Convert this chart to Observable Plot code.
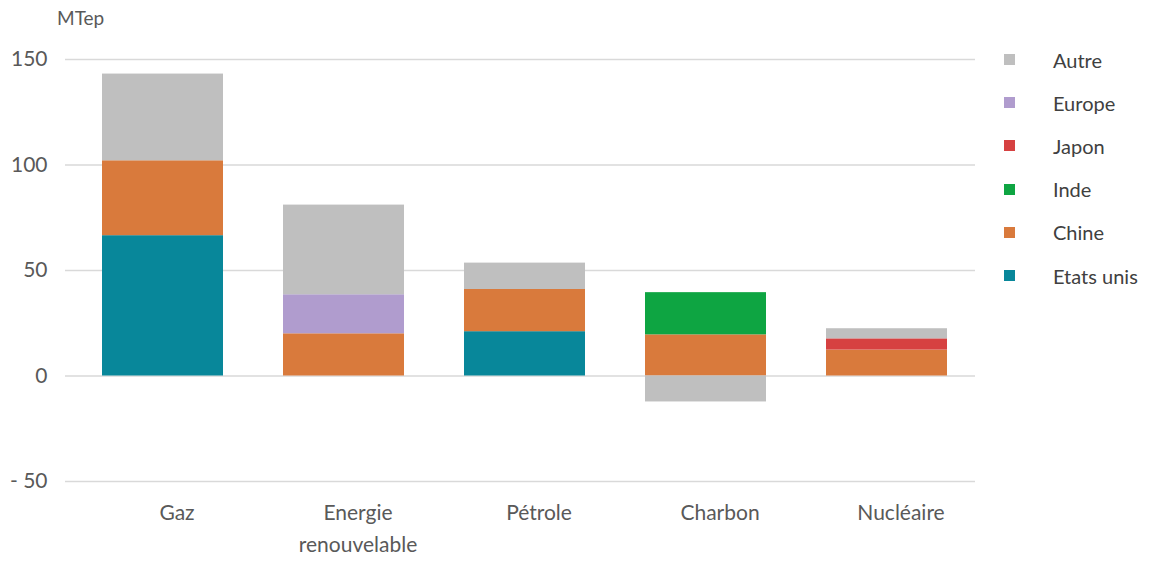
<!DOCTYPE html>
<html>
<head>
<meta charset="utf-8">
<script src="https://cdn.jsdelivr.net/npm/d3@7"></script>
<script src="https://cdn.jsdelivr.net/npm/@observablehq/plot@0.6"></script>
<style>
  html, body { margin: 0; padding: 0; background: #fff; }
  #wrap { position: relative; width: 1156px; height: 562px; font-family: Lato, "Open Sans", sans-serif; }
  #unit { position: absolute; left: 57px; top: 6px; font-size: 19px; color: #595959; }
  #legend { position: absolute; left: 1004px; top: 38px; }
  .item { display: flex; align-items: center; height: 43.2px; font-size: 20px; color: #404040; }
  .sw { width: 11px; height: 11px; margin-right: 38px; }
</style>
</head>
<body>
<div id="wrap">
  <div id="chart"></div>
  <div id="unit">MTep</div>
  <div id="legend"></div>
</div>
<script>
const categories = ["Gaz", "Energie renouvelable", "Pétrole", "Charbon", "Nucléaire"];
const tickLabels = ["Gaz", "Energie\nrenouvelable", "Pétrole", "Charbon", "Nucléaire"];
const series = ["Etats unis", "Chine", "Inde", "Japon", "Europe", "Autre"];
const etatsUnis = [66.5, 0, 21, 0, 0];
const chine     = [35.5, 20, 20, 19.5, 12.3];
const inde      = [0, 0, 0, 20, 0];
const japon     = [0, 0, 0, 0, 5.3];
const europe    = [0, 18.5, 0, 0, 0];
const autre     = [41.1, 42.5, 12.5, -12.3, 4.8];
const colors    = ["#08879a", "#d97a3c", "#0ea542", "#d64141", "#b09cce", "#bfbfbf"];
const legendOrder = ["Autre", "Europe", "Japon", "Inde", "Chine", "Etats unis"];
const yTicks = [-50, 0, 50, 100, 150];

const valuesBySeries = [etatsUnis, chine, inde, japon, europe, autre];
const data = [];
series.forEach((s, i) => {
  categories.forEach((c, j) => {
    const v = valuesBySeries[i][j];
    if (v !== 0) data.push({category: c, series: s, value: v});
  });
});

const chart = Plot.plot({
  width: 1156,
  height: 562,
  marginLeft: 65,
  marginRight: 181,
  marginTop: 59,
  marginBottom: 81,
  style: {fontFamily: "Lato, 'Open Sans', sans-serif", fontSize: "21px", color: "#595959", background: "#fff"},
  x: {domain: categories, paddingInner: 0.334, paddingOuter: 0.166, insetLeft: 5, insetRight: -4, label: null},
  y: {domain: [-50, 150], label: null},
  color: {domain: series, range: colors},
  marks: [
    Plot.ruleY(yTicks, {stroke: "#d9d9d9", strokeWidth: 1.5}),
    Plot.barY(data, Plot.stackY({
      x: "category", y: "value", fill: "series", order: series
    })),
    Plot.axisY(yTicks, {
      tickSize: 0, tickPadding: 18, fontSize: 21, fill: "#595959",
      tickFormat: d => d < 0 ? "- " + Math.abs(d) : String(d), label: null
    }),
    Plot.axisX({
      tickSize: 0, tickPadding: 15, fontSize: 21, fill: "#595959", dx: 14,
      lineAnchor: "top", lineHeight: 1.55,
      tickFormat: (d, i) => tickLabels[categories.indexOf(d)], label: null
    })
  ]
});
document.getElementById("chart").appendChild(chart);

const legend = document.getElementById("legend");
legendOrder.forEach(name => {
  const item = document.createElement("div");
  item.className = "item";
  const sw = document.createElement("span");
  sw.className = "sw";
  sw.style.background = colors[series.indexOf(name)];
  const t = document.createElement("span");
  t.textContent = name;
  item.appendChild(sw);
  item.appendChild(t);
  legend.appendChild(item);
});
</script>
</body>
</html>
